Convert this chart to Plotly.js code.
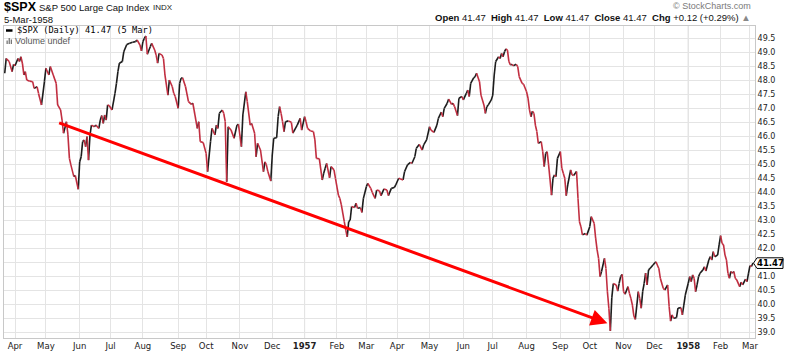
<!DOCTYPE html>
<html>
<head>
<meta charset="utf-8">
<script src="https://cdn.plot.ly/plotly-3.0.1.min.js"></script>
<style>
html,body{margin:0;padding:0;background:#fff;}
#chart{width:800px;height:354px;}
</style>
</head>
<body>
<div id="chart"></div>
<script>
// ---- data: $SPX daily closes ----
const dates = [
'1956-03-22','1956-03-23','1956-03-27','1956-03-29','1956-03-30','1956-04-02','1956-04-04','1956-04-05','1956-04-06','1956-04-09',
'1956-04-10','1956-04-11','1956-04-12','1956-04-16','1956-04-18','1956-04-19','1956-04-23','1956-04-24','1956-04-26','1956-04-30',
'1956-05-01','1956-05-03','1956-05-04','1956-05-08','1956-05-10','1956-05-11','1956-05-15','1956-05-16','1956-05-17','1956-05-21',
'1956-05-22','1956-05-23','1956-05-24','1956-05-28','1956-05-29','1956-05-31','1956-06-01','1956-06-04','1956-06-05','1956-06-06',
'1956-06-07','1956-06-08','1956-06-11','1956-06-12','1956-06-13','1956-06-15','1956-06-18','1956-06-20','1956-06-21','1956-06-22',
'1956-06-25','1956-06-26','1956-06-27','1956-06-28','1956-06-29','1956-07-03','1956-07-05','1956-07-06','1956-07-09','1956-07-10',
'1956-07-12','1956-07-13','1956-07-17','1956-07-19','1956-07-23','1956-07-25','1956-07-26','1956-07-30','1956-07-31','1956-08-01',
'1956-08-02','1956-08-03','1956-08-06','1956-08-08','1956-08-09','1956-08-13','1956-08-14','1956-08-15','1956-08-16','1956-08-20',
'1956-08-21','1956-08-22','1956-08-24','1956-08-27','1956-08-29','1956-08-30','1956-08-31','1956-09-04','1956-09-05','1956-09-06',
'1956-09-07','1956-09-11','1956-09-13','1956-09-17','1956-09-18','1956-09-21','1956-09-24','1956-09-25','1956-09-27','1956-10-01',
'1956-10-02','1956-10-04','1956-10-05','1956-10-09','1956-10-10','1956-10-11','1956-10-12','1956-10-16','1956-10-17','1956-10-18',
'1956-10-19','1956-10-22','1956-10-24','1956-10-26','1956-10-30','1956-10-31','1956-11-02','1956-11-05','1956-11-07','1956-11-08',
'1956-11-12','1956-11-13','1956-11-15','1956-11-16','1956-11-19','1956-11-21','1956-11-23','1956-11-26','1956-11-27','1956-11-28',
'1956-11-30','1956-12-03','1956-12-04','1956-12-06','1956-12-07','1956-12-10','1956-12-11','1956-12-12','1956-12-13','1956-12-14',
'1956-12-18','1956-12-20','1956-12-21','1956-12-26','1956-12-28','1956-12-31',
'1957-01-02','1957-01-03','1957-01-04','1957-01-08','1957-01-10','1957-01-11','1957-01-14','1957-01-16','1957-01-18','1957-01-21',
'1957-01-22','1957-01-23','1957-01-25','1957-01-28','1957-01-30','1957-01-31','1957-02-04','1957-02-05','1957-02-06','1957-02-08',
'1957-02-11','1957-02-12','1957-02-13','1957-02-14','1957-02-15','1957-02-19','1957-02-20','1957-02-21','1957-02-25','1957-02-26',
'1957-02-27','1957-03-01','1957-03-04','1957-03-06','1957-03-07','1957-03-11','1957-03-12','1957-03-14','1957-03-15','1957-03-19',
'1957-03-21','1957-03-22','1957-03-26','1957-03-28','1957-03-29','1957-04-02','1957-04-03','1957-04-05','1957-04-08','1957-04-10',
'1957-04-12','1957-04-15','1957-04-17','1957-04-18','1957-04-22','1957-04-24','1957-04-25','1957-04-29','1957-05-01','1957-05-02',
'1957-05-06','1957-05-08','1957-05-09','1957-05-13','1957-05-14','1957-05-15','1957-05-17','1957-05-20','1957-05-22','1957-05-23',
'1957-05-24','1957-05-28','1957-05-29','1957-05-31','1957-06-03','1957-06-05','1957-06-06','1957-06-07','1957-06-10','1957-06-12',
'1957-06-13','1957-06-14','1957-06-18','1957-06-19','1957-06-21','1957-06-24','1957-06-25','1957-06-26','1957-06-28','1957-07-01',
'1957-07-02','1957-07-03','1957-07-05','1957-07-08','1957-07-09','1957-07-10','1957-07-11','1957-07-12','1957-07-15','1957-07-16',
'1957-07-17','1957-07-18','1957-07-19','1957-07-23','1957-07-24','1957-07-25','1957-07-29','1957-07-30','1957-08-01','1957-08-02',
'1957-08-05','1957-08-06','1957-08-07','1957-08-08','1957-08-09','1957-08-12','1957-08-13','1957-08-15','1957-08-16','1957-08-19',
'1957-08-20','1957-08-21','1957-08-22','1957-08-26','1957-08-27','1957-08-28','1957-08-29','1957-08-30','1957-09-03','1957-09-04',
'1957-09-05','1957-09-06','1957-09-09','1957-09-10','1957-09-12','1957-09-13','1957-09-16','1957-09-18','1957-09-19','1957-09-20',
'1957-09-23','1957-09-24','1957-09-26','1957-09-27','1957-10-01','1957-10-02','1957-10-04','1957-10-07','1957-10-08','1957-10-09',
'1957-10-10','1957-10-11','1957-10-15','1957-10-16','1957-10-17','1957-10-18','1957-10-21','1957-10-22','1957-10-23','1957-10-25',
'1957-10-28','1957-10-29','1957-10-30','1957-10-31','1957-11-01','1957-11-04','1957-11-06','1957-11-07','1957-11-08','1957-11-11',
'1957-11-12','1957-11-13','1957-11-15','1957-11-18','1957-11-19','1957-11-20','1957-11-21','1957-11-22','1957-11-25','1957-11-26',
'1957-11-27','1957-11-29','1957-12-03','1957-12-05','1957-12-06','1957-12-10','1957-12-11','1957-12-13','1957-12-16','1957-12-17',
'1957-12-18','1957-12-19','1957-12-23','1957-12-24','1957-12-26','1957-12-27','1957-12-30','1957-12-31',
'1958-01-02','1958-01-03','1958-01-06','1958-01-07','1958-01-08','1958-01-09','1958-01-10','1958-01-13','1958-01-14','1958-01-16',
'1958-01-17','1958-01-20','1958-01-22','1958-01-23','1958-01-24','1958-01-27','1958-01-28','1958-01-30','1958-01-31','1958-02-03',
'1958-02-04','1958-02-05','1958-02-06','1958-02-07','1958-02-10','1958-02-11','1958-02-12','1958-02-13','1958-02-14','1958-02-17',
'1958-02-18','1958-02-20','1958-02-21','1958-02-24','1958-02-26','1958-02-27','1958-02-28','1958-03-03','1958-03-04','1958-03-05'
];
const closes = [
48.25,48.78,48.67,48.31,48.57,48.52,48.78,48.67,48.84,48.61,
48.19,48.31,48.01,47.97,47.95,47.71,47.77,47.53,47.12,47.95,
48.43,48.19,48.49,48.19,47.89,47.12,46.94,46.58,46.11,46.52,
46.05,45.21,44.98,44.56,44.60,44.11,45.09,45.27,45.81,45.87,
45.63,45.99,45.15,46.05,46.40,46.34,46.40,46.28,46.58,46.74,
46.46,46.76,46.58,47.12,47.10,46.94,47.53,47.89,48.31,48.61,
48.67,49.02,49.28,49.32,49.36,49.38,49.44,49.26,49.05,49.38,
49.50,49.58,48.93,49.20,49.32,49.08,48.90,48.61,48.96,48.90,
48.78,48.19,47.47,48.01,47.77,47.53,47.42,47.00,47.89,48.07,
48.09,47.77,47.24,47.14,47.18,46.28,46.52,45.81,45.78,45.39,
44.74,45.81,46.28,46.05,46.40,46.28,46.82,46.94,46.82,46.52,
44.38,46.34,46.22,45.93,46.40,46.43,45.63,46.76,47.59,47.24,
46.40,46.46,46.11,45.27,45.75,45.51,44.74,45.09,44.98,44.74,
44.40,45.33,45.93,45.95,46.70,47.06,46.82,46.52,46.17,46.52,
46.55,46.50,46.11,46.40,46.64,46.22,
46.70,46.52,46.28,46.19,46.17,45.87,45.21,45.20,44.44,44.68,
44.86,45.03,44.52,44.92,44.80,44.50,43.90,43.78,43.55,42.95,
42.65,42.41,42.95,43.01,43.49,43.46,43.61,43.43,43.45,43.28,
43.78,44.20,44.32,44.14,44.00,43.78,44.08,44.05,43.88,44.12,
44.08,43.88,44.14,44.17,44.26,44.50,44.48,44.44,44.74,44.98,
45.07,45.03,45.27,45.57,45.71,45.51,45.69,45.87,46.34,46.22,
46.14,46.40,46.64,46.86,46.70,47.00,47.18,47.33,47.14,47.18,
47.06,46.74,47.36,47.42,47.30,47.53,47.65,47.42,47.89,48.09,
48.13,48.25,47.95,47.47,47.12,46.82,47.06,47.12,47.30,47.47,
48.19,48.67,48.84,48.78,48.96,48.84,49.02,49.12,49.08,48.67,
48.55,48.57,48.52,48.57,48.49,48.13,47.89,47.86,47.59,47.36,
46.94,46.70,46.90,46.82,46.40,46.17,45.75,45.81,45.45,44.92,
45.39,45.45,44.98,43.90,44.50,44.62,44.56,45.21,45.45,44.86,
44.68,44.50,43.88,44.26,44.80,44.62,44.60,44.74,43.78,42.95,
42.77,42.48,42.53,42.47,42.77,43.13,42.89,42.36,41.94,41.64,
40.99,41.17,41.64,41.28,40.45,39.86,39.05,40.24,40.74,40.69,
40.47,40.75,40.99,41.07,40.45,40.36,40.63,40.39,40.21,39.97,
39.59,39.46,40.45,40.21,39.86,40.45,40.75,41.11,40.69,41.23,
41.28,41.40,41.52,41.28,40.93,40.57,40.51,40.69,39.92,39.40,
39.62,39.50,39.52,39.86,39.88,39.62,39.97,40.33,
40.75,40.99,40.81,41.05,40.93,40.45,40.69,40.99,41.11,41.23,
41.34,41.19,41.58,41.70,41.58,41.88,41.70,41.76,42.12,42.45,
42.18,42.12,41.76,41.58,41.11,40.93,41.17,41.11,41.17,40.93,
40.87,40.63,40.79,40.69,40.90,40.81,41.11,41.38,41.35,41.47
];
// month ticks (first trading day of each month) and their labels
const tickDates = ['1956-04-02','1956-05-01','1956-06-01','1956-07-02','1956-08-01','1956-09-04','1956-10-01','1956-11-01','1956-12-03',
  '1957-01-02','1957-02-01','1957-03-01','1957-04-01','1957-05-01','1957-06-03','1957-07-01','1957-08-01','1957-09-03','1957-10-01',
  '1957-11-01','1957-12-02','1958-01-02','1958-02-03','1958-03-03'];
const tickLabels = ['Apr','May','Jun','Jul','Aug','Sep','Oct','Nov','Dec','<b>1957</b>','Feb','Mar','Apr','May','Jun','Jul','Aug',
  'Sep','Oct','Nov','Dec','<b>1958</b>','Feb','Mar'];
const yearTicks = ['1957-01-02','1958-01-02'];
// price axis ticks; the 41.5 label is hidden behind the last-price tag in the reference
const yTickVals = [39.0,39.5,40.0,40.5,41.0,41.5,42.0,42.5,43.0,43.5,44.0,44.5,45.0,45.5,46.0,46.5,47.0,47.5,48.0,48.5,49.0,49.5];
const yTickText = ['39.0','39.5','40.0','40.5','41.0','','42.0','42.5','43.0','43.5','44.0','44.5','45.0','45.5','46.0','46.5',
  '47.0','47.5','48.0','48.5','49.0','49.5'];
// trend arrow drawn on the chart (start / end)
const arrowFrom = {date:'1956-05-11', value:46.50};
const arrowTo   = {date:'1957-10-17', value:39.32};
const quote = {open:'41.47', high:'41.47', low:'41.47', close:'41.47', chg:'+0.12', pct:'+0.29%', date:'5-Mar-1958', short:'5 Mar'};

// ---- split the line into up (black) and down (red) day segments ----
const upX=[], upY=[], dnX=[], dnY=[];
for (let i = 1; i < dates.length; i++) {
  const up = closes[i] >= closes[i-1];
  (up?upX:dnX).push(dates[i-1], dates[i], null);
  (up?upY:dnY).push(closes[i-1], closes[i], null);
}

const L = 4, R = 755, T = 26, B = 338;   // plot frame in pixels
const PX = x => (x - L) / (R - L);
const PY = y => (B - y) / (B - T);
const last = closes[closes.length-1];
const NB = '\u00A0';

const traces = [
  {x:upX, y:upY, type:'scatter', mode:'lines', line:{color:'#1c1c1c', width:1.6}, connectgaps:false, hoverinfo:'skip'},
  {x:dnX, y:dnY, type:'scatter', mode:'lines', line:{color:'#c12e40', width:1.6}, connectgaps:false, hoverinfo:'skip'}
];

const tagH = 0.19;
const layout = {
  width:800, height:354,
  margin:{l:L, r:800-R, t:T, b:354-B, pad:0},
  paper_bgcolor:'#fff', plot_bgcolor:'#fff',
  showlegend:false,
  font:{family:'"Liberation Sans", Arial, sans-serif', color:'#222'},
  xaxis:{
    type:'date',
    range:['1956-03-21 12:00','1958-03-06 10:00'],
    rangebreaks:[{bounds:['sat','mon']}],
    tickmode:'array', tickvals:tickDates, ticktext:tickLabels,
    showgrid:true, gridcolor:'#e4e4e4', gridwidth:1,
    showline:true, linecolor:'#c8c8c8', linewidth:1, mirror:true,
    ticks:'', tickfont:{size:8.5, color:'#222', family:'"DejaVu Sans", sans-serif'},
    zeroline:false, fixedrange:true
  },
  yaxis:{
    side:'right',
    range:[38.796, 49.939],
    tickmode:'array', tickvals:yTickVals, ticktext:yTickText,
    showgrid:true, gridcolor:'#e4e4e4', gridwidth:1,
    showline:true, linecolor:'#c8c8c8', linewidth:1, mirror:true,
    ticks:'', tickfont:{size:8, color:'#222', family:'"DejaVu Sans", sans-serif'},
    zeroline:false, fixedrange:true
  },
  shapes:[
    ...yearTicks.map(d => ({type:'line', xref:'x', yref:'paper', x0:d, x1:d, y0:0, y1:1, line:{color:'#cfcfcf', width:1}, layer:'below'})),
    // legend dash
    {type:'line', xref:'paper', yref:'paper', x0:PX(6), x1:PX(12.5), y0:PY(30.5), y1:PY(30.5), line:{color:'#000', width:2.5}},
    // volume icon bars
    {type:'rect', xref:'paper', yref:'paper', x0:PX(6.5), x1:PX(7.8), y0:PY(44), y1:PY(40.5), fillcolor:'#777', line:{width:0}},
    {type:'rect', xref:'paper', yref:'paper', x0:PX(8.6), x1:PX(9.9), y0:PY(44), y1:PY(38), fillcolor:'#777', line:{width:0}},
    {type:'rect', xref:'paper', yref:'paper', x0:PX(10.7), x1:PX(12), y0:PY(44), y1:PY(39.5), fillcolor:'#777', line:{width:0}},
    // last-price tag
    {type:'path', xref:'paper', yref:'y',
     path:`M ${PX(753.5)},${last} L ${PX(757)},${last+tagH} L ${PX(783)},${last+tagH} L ${PX(783)},${last-tagH} L ${PX(757)},${last-tagH} Z`,
     fillcolor:'#fff', line:{color:'#000', width:1}}
  ],
  annotations:[
    {xref:'x', yref:'y', axref:'x', ayref:'y', x:arrowTo.date, y:arrowTo.value, ax:arrowFrom.date, ay:arrowFrom.value,
     text:'', showarrow:true, arrowhead:2, arrowsize:1.1, arrowwidth:3, arrowcolor:'#ff0000', standoff:0, startstandoff:0},
    {xref:'paper', yref:'y', x:PX(770), y:last, xanchor:'center', yanchor:'middle', showarrow:false,
     text:'<b>'+last.toFixed(2)+'</b>', font:{size:8.5, color:'#000', family:'"DejaVu Sans", sans-serif'}},
    {xref:'paper', yref:'paper', x:PX(2), y:PY(7.5), xanchor:'left', yanchor:'middle', showarrow:false,
     text:'<b>$SPX</b>', font:{size:12.5, color:'#000'}},
    {xref:'paper', yref:'paper', x:PX(37), y:PY(7.5), xanchor:'left', yanchor:'middle', showarrow:false,
     text:'S&P 500 Large Cap Index', font:{size:9.5, color:'#111'}},
    {xref:'paper', yref:'paper', x:PX(151), y:PY(8), xanchor:'left', yanchor:'middle', showarrow:false,
     text:'INDX', font:{size:8, color:'#222'}},
    {xref:'paper', yref:'paper', x:PX(2), y:PY(19.5), xanchor:'left', yanchor:'middle', showarrow:false,
     text:quote.date, font:{size:9.5, color:'#111'}},
    {xref:'paper', yref:'paper', x:PX(753), y:PY(6), xanchor:'right', yanchor:'middle', showarrow:false,
     text:'\u00A9'+NB+'StockCharts.com', font:{size:9, color:'#7a7a7a'}},
    {xref:'paper', yref:'paper', x:PX(753), y:PY(17), xanchor:'right', yanchor:'middle', showarrow:false,
     text:'<b>Open</b>'+NB+quote.open+NB+NB+'<b>High</b>'+NB+quote.high+NB+NB+'<b>Low</b>'+NB+quote.low+NB+NB+'<b>Close</b>'+NB+quote.close+NB+NB+'<b>Chg</b>'+NB+quote.chg+NB+'('+quote.pct+')'+NB+'<span style="color:#888">\u25B2</span>',
     font:{size:9.5, color:'#111'}},
    {xref:'paper', yref:'paper', x:PX(14.5), y:PY(30.5), xanchor:'left', yanchor:'middle', showarrow:false,
     text:'$SPX (Daily) '+last.toFixed(2)+' ('+quote.short+')', font:{size:8.7, color:'#000', family:'"DejaVu Sans Mono", monospace'}},
    {xref:'paper', yref:'paper', x:PX(12.5), y:PY(41), xanchor:'left', yanchor:'middle', showarrow:false,
     text:'Volume undef', font:{size:9, color:'#555'}}
  ]
};

Plotly.newPlot('chart', traces, layout, {displayModeBar:false, staticPlot:true});
</script>
</body>
</html>
